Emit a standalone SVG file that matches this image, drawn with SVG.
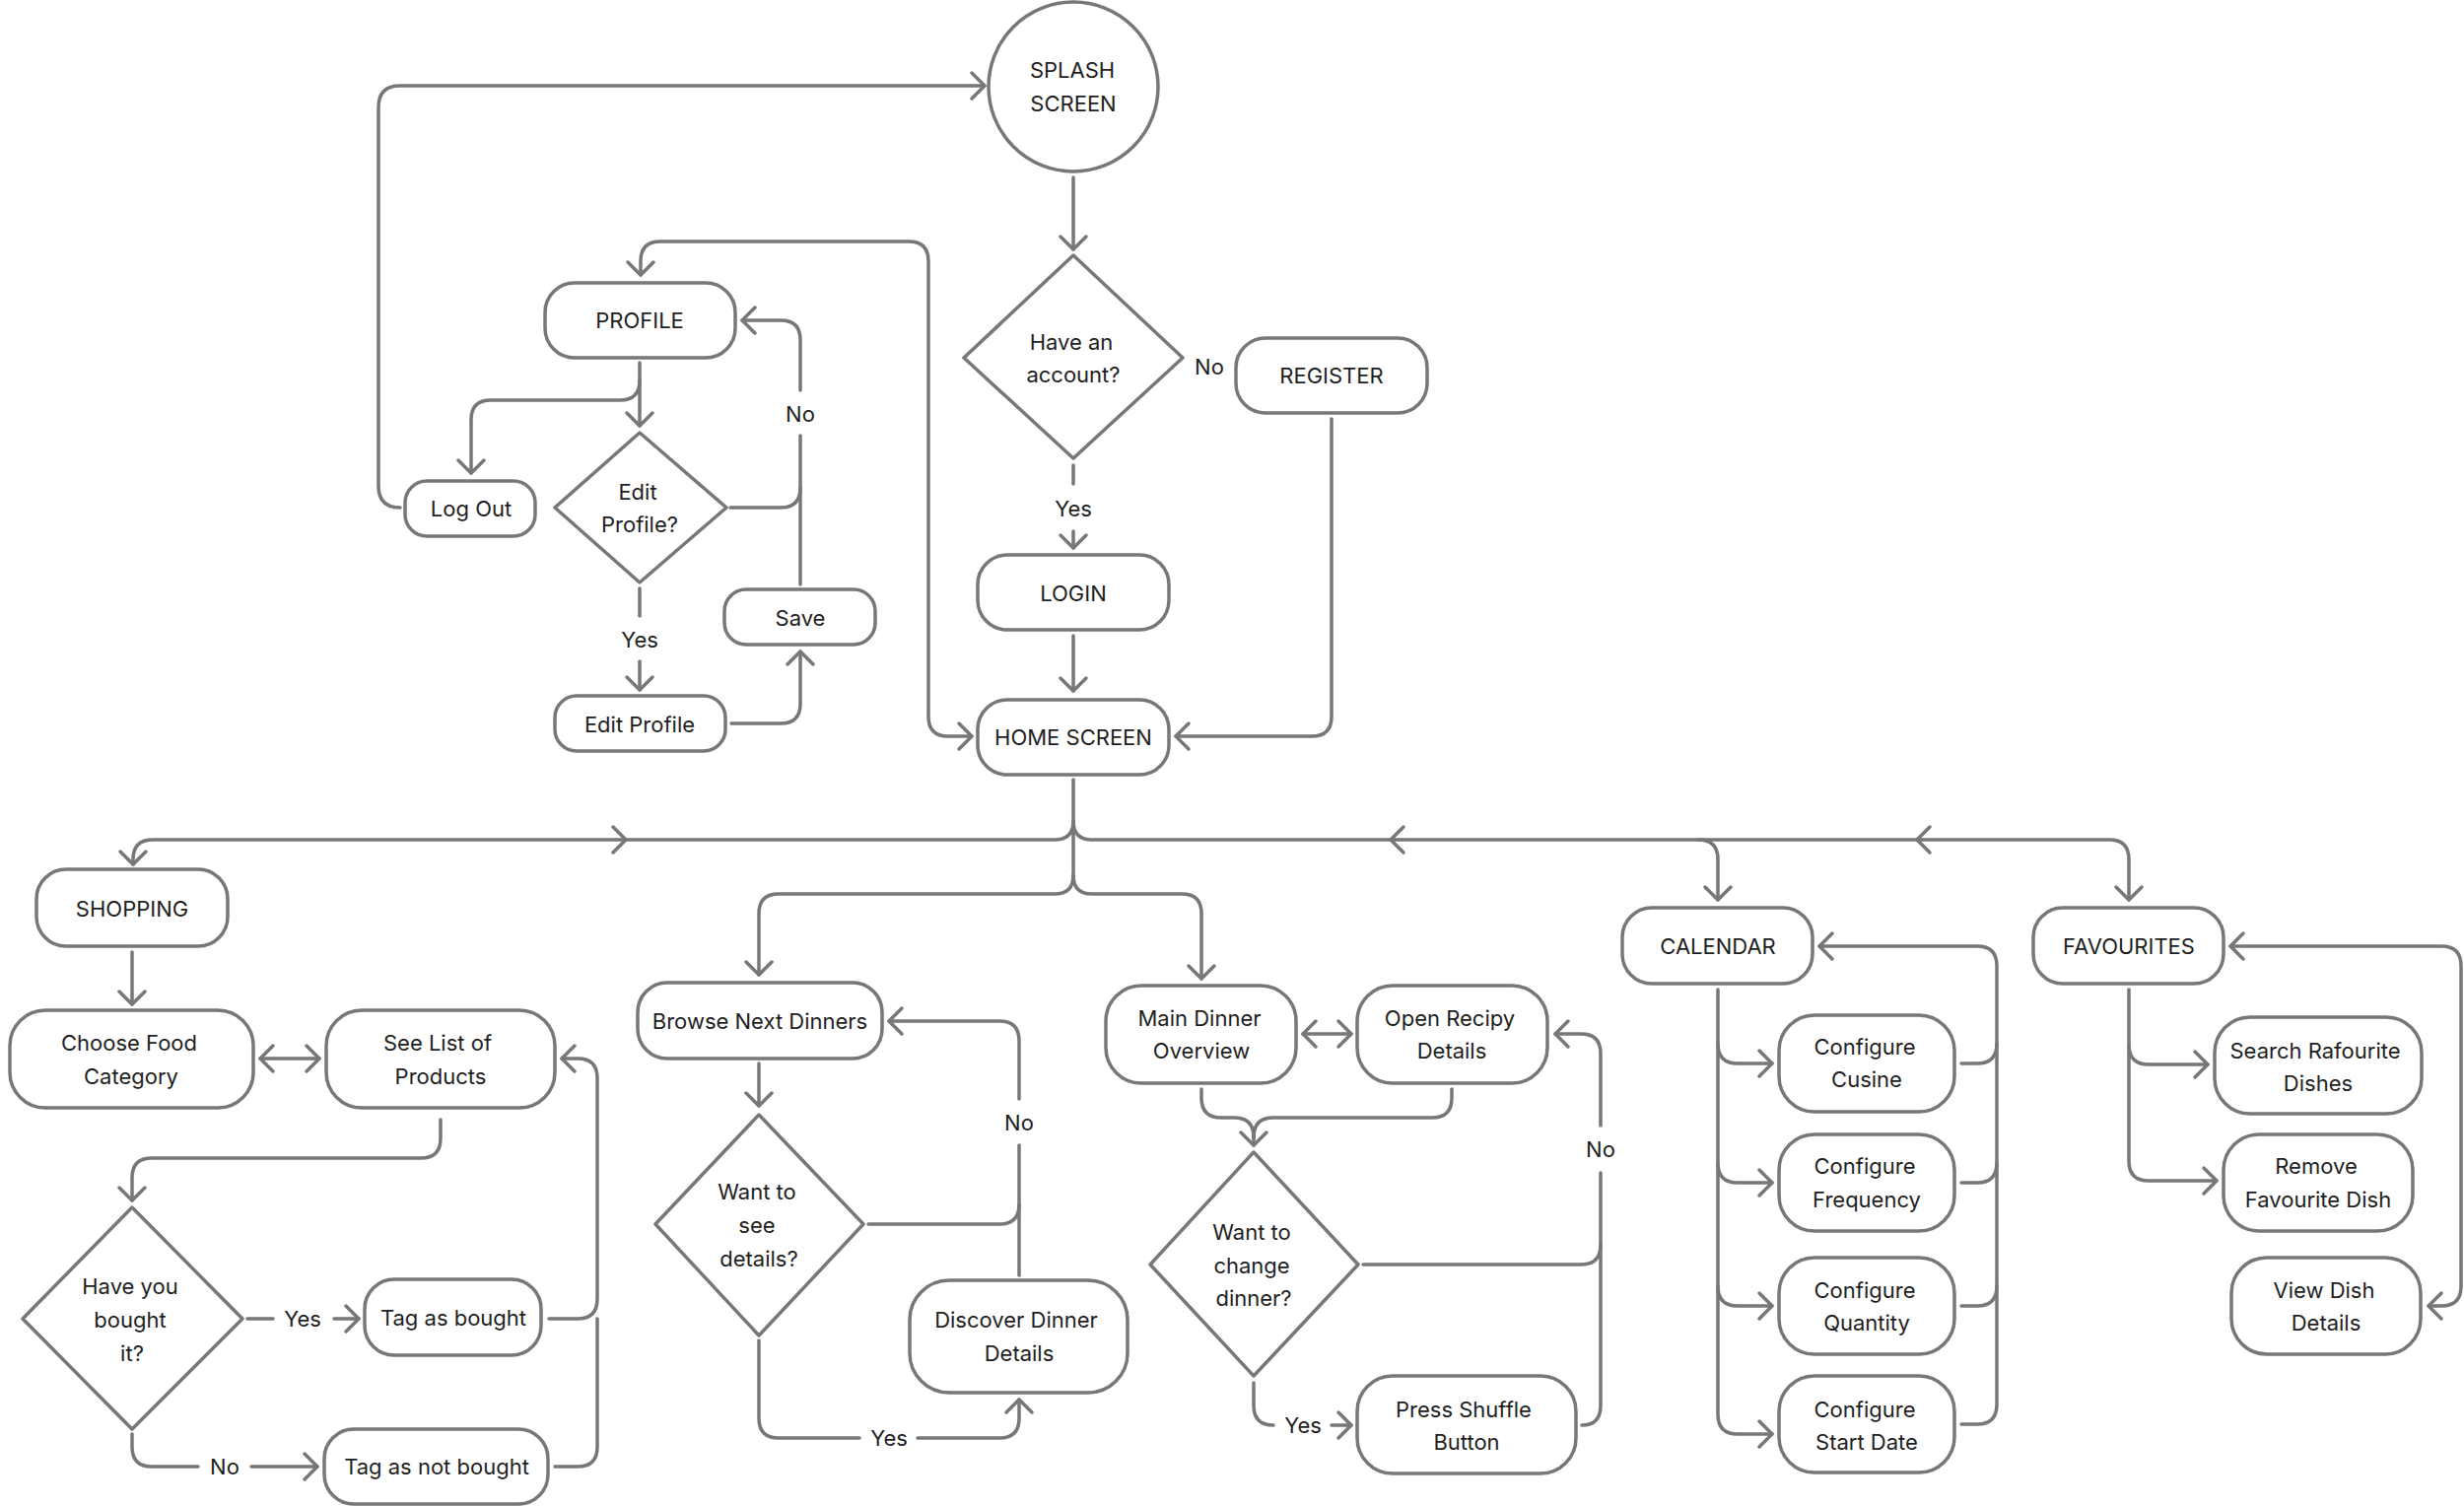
<svg xmlns="http://www.w3.org/2000/svg" width="2500" height="1528" viewBox="0 0 2500 1528">
<style>
.b{fill:#fff;stroke:#777;stroke-width:3.5}
.c{fill:none;stroke:#777;stroke-width:3.5;stroke-linecap:round;stroke-linejoin:round}
.ca{fill:none;stroke:#777;stroke-width:3.5;stroke-linecap:round;stroke-linejoin:round;marker-end:url(#ah)}
.cd{fill:none;stroke:#777;stroke-width:3.5;stroke-linecap:round;stroke-linejoin:round;marker-end:url(#ah);marker-start:url(#ah)}
.d{fill:#fff;stroke:#777;stroke-width:3.5;stroke-linejoin:round}
text{font-family:Inter,"Noto Sans","Liberation Sans",sans-serif;font-size:22px;fill:#1e1e1e;text-anchor:middle;dominant-baseline:central}
</style>
<defs>
<marker id="ah" viewBox="-16 -16 20 32" markerWidth="20" markerHeight="32" refX="0" refY="0" orient="auto-start-reverse" markerUnits="userSpaceOnUse">
<path d="M-13,-13 L0,0 L-13,13" fill="none" stroke="#777" stroke-width="3.5" stroke-linecap="round" stroke-linejoin="round"/>
</marker>
</defs>
<rect width="2500" height="1528" fill="#fff"/>

<g id="connectors">
<!-- top -->
<path class="ca" d="M406,515 Q384,515 384,493 L384,109 Q384,87 406,87 L999,87"/>
<path class="ca" d="M1089,180 L1089,253"/>
<path class="c" d="M1089,472 L1089,491"/>
<path class="ca" d="M1089,539 L1089,556"/>
<path class="ca" d="M1089,645 L1089,701"/>
<path class="ca" d="M1351,425 L1351,727 Q1351,747 1331,747 L1193,747"/>
<path class="cd" d="M650,279 L650,265 Q650,245 670,245 L922,245 Q942,245 942,265 L942,727 Q942,747 962,747 L986,747"/>
<!-- profile -->
<path class="ca" d="M649,368 L649,432"/>
<path class="ca" d="M649,386 Q649,406 629,406 L498,406 Q478,406 478,426 L478,480"/>
<path class="c" d="M741,515 L792,515 Q812,515 812,495"/>
<path class="c" d="M812,593 L812,442"/>
<path class="ca" d="M812,396 L812,345 Q812,325 792,325 L753,325"/>
<path class="c" d="M649,597 L649,625"/>
<path class="ca" d="M649,671 L649,700"/>
<path class="ca" d="M742,734 L792,734 Q812,734 812,714 L812,661"/>
<!-- home branches -->
<path class="c" d="M1089,791 L1089,893"/>
<path class="ca" d="M1089,833 Q1089,852 1070,852 L155,852 Q135,852 135,872 L135,877"/>
<path class="ca" d="M1089,833 Q1089,852 1108,852 L1723,852 Q1743,852 1743,872 L1743,913"/>
<path class="ca" d="M1723,852 L2140,852 Q2160,852 2160,872 L2160,913"/>
<path class="ca" d="M1089,888 Q1089,907 1070,907 L790,907 Q770,907 770,927 L770,989"/>
<path class="ca" d="M1089,888 Q1089,907 1108,907 L1199,907 Q1219,907 1219,927 L1219,993"/>
<path class="c" d="M622,839 L635,852 L622,865"/>
<path class="c" d="M1424,839 L1411,852 L1424,865"/>
<path class="c" d="M1958,839 L1945,852 L1958,865"/>
<!-- shopping -->
<path class="ca" d="M134,966 L134,1019"/>
<path class="cd" d="M264,1074 L324,1074"/>
<path class="ca" d="M447,1136 L447,1155 Q447,1175 427,1175 L154,1175 Q134,1175 134,1195 L134,1218"/>
<path class="c" d="M251,1338 L277,1338"/>
<path class="ca" d="M339,1338 L364,1338"/>
<path class="c" d="M134,1455 L134,1468 Q134,1488 154,1488 L201,1488"/>
<path class="ca" d="M255,1488 L322,1488"/>
<path class="ca" d="M557,1338 L586,1338 Q606,1338 606,1318 L606,1094 Q606,1074 586,1074 L570,1074"/>
<path class="c" d="M563,1488 L586,1488 Q606,1488 606,1468 L606,1338"/>
<!-- browse -->
<path class="ca" d="M770,1079 L770,1122"/>
<path class="c" d="M881,1242 L1014,1242 Q1034,1242 1034,1222"/>
<path class="c" d="M1034,1294 L1034,1162"/>
<path class="ca" d="M1034,1115 L1034,1056 Q1034,1036 1014,1036 L902,1036"/>
<path class="c" d="M770,1360 L770,1439 Q770,1459 790,1459 L872,1459"/>
<path class="ca" d="M931,1459 L1014,1459 Q1034,1459 1034,1439 L1034,1420"/>
<!-- main dinner -->
<path class="cd" d="M1322,1049 L1371,1049"/>
<path class="c" d="M1219,1105 L1219,1114 Q1219,1134 1239,1134 L1252,1134 Q1272,1134 1272,1154"/>
<path class="ca" d="M1473,1105 L1473,1114 Q1473,1134 1453,1134 L1292,1134 Q1272,1134 1272,1154 L1272,1162"/>
<path class="c" d="M1383,1283 L1604,1283 Q1624,1283 1624,1263"/>
<path class="c" d="M1605,1446 Q1624,1446 1624,1426 L1624,1190"/>
<path class="ca" d="M1624,1142 L1624,1069 Q1624,1049 1604,1049 L1578,1049"/>
<path class="c" d="M1272,1403 L1272,1426 Q1272,1446 1292,1446"/>
<path class="ca" d="M1351,1446 L1371,1446"/>
<!-- calendar -->
<path class="ca" d="M1743,1004 L1743,1435 Q1743,1455 1763,1455 L1798,1455"/>
<path class="ca" d="M1743,1059 Q1743,1079 1763,1079 L1798,1079"/>
<path class="ca" d="M1743,1180 Q1743,1200 1763,1200 L1798,1200"/>
<path class="ca" d="M1743,1305 Q1743,1325 1763,1325 L1798,1325"/>
<path class="ca" d="M1990,1445 L2006,1445 Q2026,1445 2026,1425 L2026,980 Q2026,960 2006,960 L1846,960"/>
<path class="c" d="M1990,1079 L2006,1079 Q2026,1079 2026,1059"/>
<path class="c" d="M1990,1200 L2006,1200 Q2026,1200 2026,1180"/>
<path class="c" d="M1990,1325 L2006,1325 Q2026,1325 2026,1305"/>
<!-- favourites -->
<path class="ca" d="M2160,1004 L2160,1178 Q2160,1198 2180,1198 L2249,1198"/>
<path class="ca" d="M2160,1060 Q2160,1080 2180,1080 L2240,1080"/>
<path class="cd" d="M2263,960 L2477,960 Q2497,960 2497,980 L2497,1305 Q2497,1325 2477,1325 L2464,1325"/>
</g>

<g id="labels">
<text x="1227" y="372">No</text>
<text x="1089" y="516">Yes</text>
<text x="812" y="420">No</text>
<text x="649" y="649">Yes</text>
<text x="307" y="1338">Yes</text>
<text x="228" y="1488">No</text>
<text x="1034" y="1139">No</text>
<text x="902" y="1459">Yes</text>
<text x="1624" y="1166">No</text>
<text x="1322" y="1446">Yes</text>
</g>

<g id="splash"><circle class="b" cx="1089" cy="88" r="86"/><text x="1088" y="71">SPLASH</text><text x="1089" y="105">SCREEN</text></g>
<g id="have-account"><polygon class="d" points="1089,259 1200,363 1089,465 978,363"/><text x="1087" y="347">Have an</text><text x="1089" y="380">account?</text></g>
<g id="register"><rect class="b" x="1254" y="343" width="194" height="76" rx="30"/><text x="1351" y="381">REGISTER</text></g>
<g id="login"><rect class="b" x="992" y="563" width="194" height="76" rx="30"/><text x="1089" y="602">LOGIN</text></g>
<g id="home"><rect class="b" x="992" y="710" width="194" height="76" rx="30"/><text x="1089" y="748">HOME SCREEN</text></g>
<g id="profile"><rect class="b" x="553" y="287" width="193" height="76" rx="30"/><text x="649" y="325">PROFILE</text></g>
<g id="logout"><rect class="b" x="411" y="488" width="132" height="56" rx="22"/><text x="478" y="516">Log Out</text></g>
<g id="edit-profile-q"><polygon class="d" points="649,439 737,515 649,591 563,515"/><text x="647" y="499">Edit</text><text x="649" y="532">Profile?</text></g>
<g id="save"><rect class="b" x="735" y="598" width="153" height="56" rx="22"/><text x="812" y="627">Save</text></g>
<g id="edit-profile"><rect class="b" x="563" y="706" width="173" height="56" rx="22"/><text x="649" y="735">Edit Profile</text></g>

<g id="shopping"><rect class="b" x="37" y="882" width="194" height="78" rx="30"/><text x="134" y="922">SHOPPING</text></g>
<g id="choose-food"><rect class="b" x="10" y="1025" width="247" height="99" rx="36"/><text x="131" y="1058">Choose Food</text><text x="133" y="1092">Category</text></g>
<g id="see-list"><rect class="b" x="331" y="1025" width="232" height="99" rx="36"/><text x="444" y="1058">See List of</text><text x="447" y="1092">Products</text></g>
<g id="bought-q"><polygon class="d" points="134,1225 246,1338 134,1450 23,1338"/><text x="132" y="1305">Have you</text><text x="132" y="1339">bought</text><text x="134" y="1373">it?</text></g>
<g id="tag-bought"><rect class="b" x="370" y="1298" width="179" height="77" rx="30"/><text x="460" y="1337">Tag as bought</text></g>
<g id="tag-not-bought"><rect class="b" x="329" y="1450" width="227" height="76" rx="30"/><text x="443" y="1488">Tag as not bought</text></g>

<g id="browse"><rect class="b" x="647" y="997" width="248" height="77" rx="30"/><text x="771" y="1036">Browse Next Dinners</text></g>
<g id="details-q"><polygon class="d" points="770,1131 876,1242 770,1355 665,1242"/><text x="768" y="1209">Want to</text><text x="768" y="1243">see</text><text x="770" y="1277">details?</text></g>
<g id="discover"><rect class="b" x="923" y="1299" width="221" height="114" rx="40"/><text x="1031" y="1339">Discover Dinner</text><text x="1034" y="1373">Details</text></g>

<g id="main-dinner"><rect class="b" x="1122" y="1000" width="193" height="99" rx="36"/><text x="1217" y="1033">Main Dinner</text><text x="1219" y="1066">Overview</text></g>
<g id="open-recipy"><rect class="b" x="1377" y="1000" width="193" height="99" rx="36"/><text x="1471" y="1033">Open Recipy</text><text x="1473" y="1066">Details</text></g>
<g id="change-q"><polygon class="d" points="1272,1169 1378,1283 1272,1396 1167,1283"/><text x="1270" y="1250">Want to</text><text x="1270" y="1284">change</text><text x="1272" y="1317">dinner?</text></g>
<g id="shuffle"><rect class="b" x="1377" y="1396" width="222" height="99" rx="36"/><text x="1485" y="1430">Press Shuffle</text><text x="1488" y="1463">Button</text></g>

<g id="calendar"><rect class="b" x="1646" y="921" width="193" height="77" rx="30"/><text x="1743" y="960">CALENDAR</text></g>
<g id="cfg-cusine"><rect class="b" x="1805" y="1030" width="178" height="98" rx="36"/><text x="1892" y="1062">Configure</text><text x="1894" y="1095">Cusine</text></g>
<g id="cfg-frequency"><rect class="b" x="1805" y="1151" width="178" height="98" rx="36"/><text x="1892" y="1183">Configure</text><text x="1894" y="1217">Frequency</text></g>
<g id="cfg-quantity"><rect class="b" x="1805" y="1276" width="178" height="98" rx="36"/><text x="1892" y="1309">Configure</text><text x="1894" y="1342">Quantity</text></g>
<g id="cfg-start"><rect class="b" x="1805" y="1396" width="178" height="98" rx="36"/><text x="1892" y="1430">Configure</text><text x="1894" y="1463">Start Date</text></g>

<g id="favourites"><rect class="b" x="2063" y="921" width="193" height="77" rx="30"/><text x="2160" y="960">FAVOURITES</text></g>
<g id="search-fav"><rect class="b" x="2247" y="1032" width="210" height="98" rx="36"/><text x="2349" y="1066">Search Rafourite</text><text x="2352" y="1099">Dishes</text></g>
<g id="remove-fav"><rect class="b" x="2256" y="1151" width="192" height="98" rx="36"/><text x="2350" y="1183">Remove</text><text x="2352" y="1217">Favourite Dish</text></g>
<g id="view-dish"><rect class="b" x="2264" y="1276" width="192" height="98" rx="36"/><text x="2358" y="1309">View Dish</text><text x="2360" y="1342">Details</text></g>
</svg>
